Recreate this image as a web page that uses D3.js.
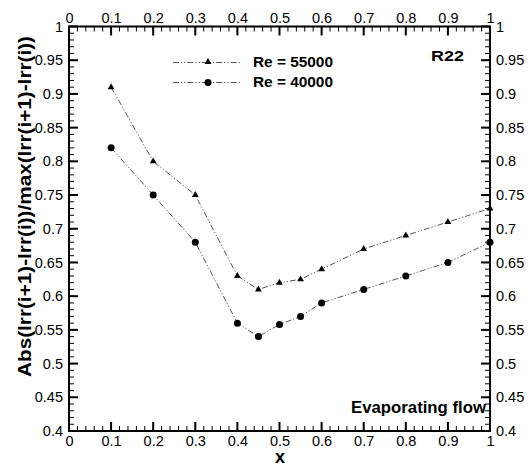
<!DOCTYPE html>
<html>
<head>
<meta charset="utf-8">
<script src="https://cdn.jsdelivr.net/npm/d3@7"></script>
</head>
<body style="margin:0">
<div id="chart"></div>
<script>
// data
let xVals = [0.1, 0.2, 0.3, 0.4, 0.45, 0.5, 0.55, 0.6, 0.7, 0.8, 0.9, 1.0];
let re55000 = [0.91, 0.80, 0.75, 0.63, 0.61, 0.62, 0.625, 0.64, 0.67, 0.69, 0.71, 0.73];
let re40000 = [0.82, 0.75, 0.68, 0.56, 0.54, 0.558, 0.57, 0.59, 0.61, 0.63, 0.65, 0.68];
let xTicks = [0, 0.1, 0.2, 0.3, 0.4, 0.5, 0.6, 0.7, 0.8, 0.9, 1];
let yTicks = [0.4, 0.45, 0.5, 0.55, 0.6, 0.65, 0.7, 0.75, 0.8, 0.85, 0.9, 0.95, 1];
let seriesNames = ["Re = 55000", "Re = 40000"];

let FONT = "'Liberation Sans', Arial, sans-serif";
let left = 69, right = 490, topY = 26.5, bottomY = 431;

let svg = d3.select("#chart").append("svg")
    .attr("width", 530)
    .attr("height", 466);

let x = d3.scaleLinear().domain([0, 1]).range([left, right]);
let y = d3.scaleLinear().domain([0.4, 1]).range([bottomY, topY]);

let fmt = d => d3.format("~g")(d);

// minor ticks
let xMinor = d3.range(0, 1.0001, 0.02);
let yMinor = d3.range(0.4, 1.0001, 0.01);

// TICK MARKS - inward on all four sides
function xMarks(vals, len, w) {
    [[bottomY, bottomY - len], [topY, topY + len]].forEach(function (p) {
        svg.append("g").selectAll("line").data(vals).enter()
            .append("line")
            .attr("x1", d => x(d)).attr("x2", d => x(d))
            .attr("y1", p[0]).attr("y2", p[1])
            .attr("stroke", "#000").attr("stroke-width", w);
    });
}
function yMarks(vals, len, w) {
    [[left, left + len], [right, right - len]].forEach(function (p) {
        svg.append("g").selectAll("line").data(vals).enter()
            .append("line")
            .attr("y1", d => y(d)).attr("y2", d => y(d))
            .attr("x1", p[0]).attr("x2", p[1])
            .attr("stroke", "#000").attr("stroke-width", w);
    });
}
xMarks(xMinor, 5, 1);
xMarks(xTicks, 9, 2);
yMarks(yMinor, 5, 1);
yMarks(yTicks, 9, 2);

// frame
svg.append("rect")
    .attr("x", x(0)).attr("y", y(1))
    .attr("width", x(1) - x(0)).attr("height", y(0.4) - y(1))
    .attr("fill", "none").attr("stroke", "#000").attr("stroke-width", 2);

// TICK LABELS
function addLabels(axisFn, scale, vals, tr, pad) {
    let ga = svg.append("g").attr("transform", tr);
    ga.call(axisFn(scale).tickValues(vals).tickSize(0).tickFormat(fmt).tickPadding(pad));
    ga.select(".domain").remove();
    ga.selectAll(".tick line").remove();
    ga.selectAll(".tick text")
        .attr("fill", "#000")
        .attr("font-size", "14.5px")
        .attr("font-family", FONT);
}
addLabels(d3.axisBottom, x, xTicks, "translate(0," + bottomY + ")", 5);
addLabels(d3.axisTop, x, xTicks, "translate(0," + topY + ")", 4);
addLabels(d3.axisLeft, y, yTicks, "translate(" + left + ",0)", 6);
addLabels(d3.axisRight, y, yTicks, "translate(" + right + ",0)", 6);

// LINES
let dash = "6,2,1.2,2,1.2,2";
let line = d3.line().x((d, i) => x(xVals[i])).y(d => y(d));

[re55000, re40000].forEach(function (s) {
    svg.append("path").datum(s)
        .attr("d", line)
        .attr("fill", "none")
        .attr("stroke", "#555")
        .attr("stroke-width", 1)
        .attr("stroke-dasharray", dash);
});

let tri = d3.symbol().type(d3.symbolTriangle).size(20);

svg.append("g").selectAll("path").data(re55000).enter()
    .append("path")
    .attr("d", tri)
    .attr("transform", (d, i) => "translate(" + x(xVals[i]) + "," + y(d) + ")")
    .attr("fill", "#000");

svg.append("g").selectAll("circle").data(re40000).enter()
    .append("circle")
    .attr("cx", (d, i) => x(xVals[i]))
    .attr("cy", d => y(d))
    .attr("r", 3.5)
    .attr("fill", "#000");

// LEGEND
[62.5, 82.5].forEach(function (ly, k) {
    svg.append("line")
        .attr("x1", 173).attr("x2", 241)
        .attr("y1", ly).attr("y2", ly)
        .attr("stroke", "#555")
        .attr("stroke-dasharray", dash);
    if (k === 0) {
        svg.append("path").attr("d", tri).attr("fill", "#000")
            .attr("transform", "translate(208," + (ly - 0.5) + ")");
    } else {
        svg.append("circle").attr("cx", 208).attr("cy", ly).attr("r", 3.5).attr("fill", "#000");
    }
    svg.append("text")
        .attr("x", 253).attr("y", ly + 4.5)
        .attr("textLength", 80).attr("lengthAdjust", "spacingAndGlyphs")
        .attr("font-family", FONT).attr("font-size", "14px").attr("font-weight", "bold")
        .text(seriesNames[k]);
});

// annotations
svg.append("text")
    .attr("x", 431).attr("y", 61)
    .attr("textLength", 33).attr("lengthAdjust", "spacingAndGlyphs")
    .attr("font-family", FONT).attr("font-size", "15px").attr("font-weight", "bold")
    .text("R22");

svg.append("text")
    .attr("x", 351).attr("y", 413)
    .attr("textLength", 135).attr("lengthAdjust", "spacingAndGlyphs")
    .attr("font-family", FONT).attr("font-size", "16px").attr("font-weight", "bold")
    .text("Evaporating flow");

// axis titles
svg.append("text")
    .attr("x", 280).attr("y", 463)
    .attr("text-anchor", "middle")
    .attr("font-family", FONT).attr("font-size", "18px").attr("font-weight", "bold")
    .text("x");

svg.append("text")
    .attr("transform", "translate(31,377) rotate(-90)")
    .attr("textLength", 341).attr("lengthAdjust", "spacingAndGlyphs")
    .attr("font-family", FONT).attr("font-size", "18px").attr("font-weight", "bold")
    .text("Abs(Irr(i+1)-Irr(i))/max(Irr(i+1)-Irr(i))");
</script>
</body>
</html>
